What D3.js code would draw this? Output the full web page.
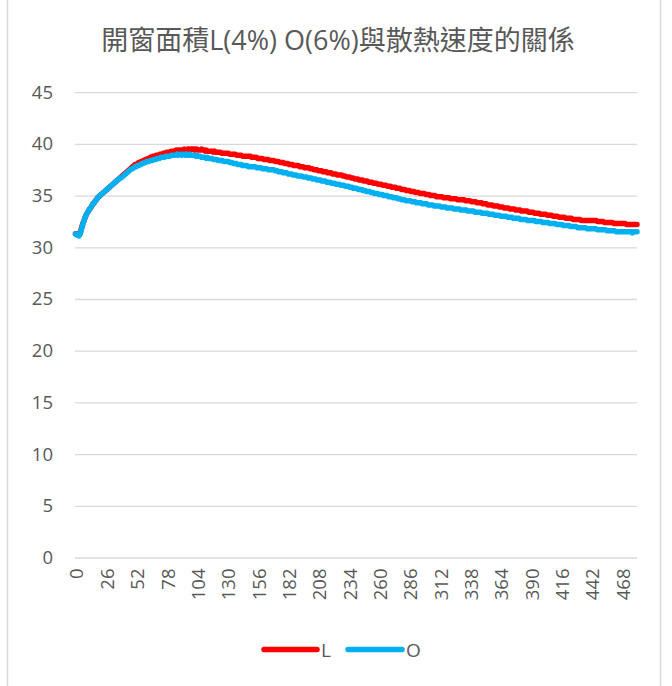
<!DOCTYPE html>
<html>
<head>
<meta charset="utf-8">
<script src="https://cdn.jsdelivr.net/npm/d3@7"></script>
<style>
  html, body { margin: 0; padding: 0; background: #ffffff; }
  svg { display: block; }
  text { font-family: "Open Sans", "Noto Sans CJK TC", sans-serif; fill: #595959; }
</style>
</head>
<body>
<svg id="chart" width="672" height="686"></svg>
<script>
// Temperature readings (°C) for the two window-opening areas, one per sampling step 0..481
const seriesL = [
  31.3, 31.3, 31.2, 31.2, 31.4, 31.8, 32.2, 32.5, 32.8, 33.1,
  33.3, 33.5, 33.7, 33.8, 34.0, 34.2, 34.3, 34.5, 34.6, 34.8,
  34.9, 35.0, 35.1, 35.2, 35.3, 35.4, 35.5, 35.6, 35.7, 35.8,
  35.9, 36.0, 36.1, 36.2, 36.3, 36.4, 36.5, 36.6, 36.7, 36.8,
  36.9, 37.0, 37.1, 37.2, 37.3, 37.4, 37.5, 37.6, 37.7, 37.8,
  37.9, 38.0, 38.0, 38.1, 38.2, 38.2, 38.3, 38.3, 38.4, 38.4,
  38.5, 38.5, 38.6, 38.6, 38.7, 38.7, 38.8, 38.8, 38.8, 38.9,
  38.9, 38.9, 39.0, 39.0, 39.0, 39.1, 39.1, 39.1, 39.2, 39.2,
  39.2, 39.2, 39.3, 39.3, 39.3, 39.3, 39.4, 39.3, 39.4, 39.4,
  39.4, 39.4, 39.4, 39.5, 39.4, 39.4, 39.5, 39.5, 39.4, 39.5,
  39.5, 39.5, 39.4, 39.5, 39.5, 39.4, 39.4, 39.4, 39.5, 39.4,
  39.4, 39.3, 39.4, 39.3, 39.3, 39.3, 39.3, 39.3, 39.2, 39.3,
  39.2, 39.2, 39.2, 39.2, 39.2, 39.1, 39.1, 39.1, 39.1, 39.1,
  39.1, 39.1, 39.0, 39.0, 39.0, 39.0, 39.0, 39.0, 38.9, 38.9,
  38.9, 38.9, 38.9, 38.8, 38.8, 38.8, 38.8, 38.8, 38.8, 38.8,
  38.8, 38.7, 38.7, 38.7, 38.7, 38.7, 38.6, 38.6, 38.6, 38.6,
  38.6, 38.5, 38.5, 38.5, 38.5, 38.5, 38.4, 38.4, 38.4, 38.4,
  38.4, 38.3, 38.3, 38.3, 38.3, 38.2, 38.2, 38.2, 38.2, 38.1,
  38.1, 38.1, 38.1, 38.0, 38.0, 38.0, 38.0, 37.9, 37.9, 37.9,
  37.9, 37.9, 37.8, 37.8, 37.8, 37.8, 37.7, 37.7, 37.7, 37.7,
  37.7, 37.6, 37.6, 37.6, 37.5, 37.5, 37.5, 37.5, 37.4, 37.4,
  37.4, 37.4, 37.3, 37.3, 37.3, 37.3, 37.2, 37.2, 37.2, 37.2,
  37.1, 37.1, 37.1, 37.1, 37.0, 37.0, 37.0, 37.0, 37.0, 36.9,
  36.9, 36.9, 36.8, 36.8, 36.8, 36.8, 36.7, 36.7, 36.7, 36.6,
  36.6, 36.6, 36.6, 36.5, 36.5, 36.5, 36.5, 36.4, 36.4, 36.4,
  36.4, 36.3, 36.3, 36.3, 36.3, 36.2, 36.2, 36.2, 36.2, 36.1,
  36.1, 36.1, 36.1, 36.0, 36.0, 36.0, 36.0, 35.9, 35.9, 35.9,
  35.9, 35.8, 35.8, 35.8, 35.8, 35.7, 35.7, 35.7, 35.7, 35.6,
  35.6, 35.6, 35.6, 35.5, 35.5, 35.5, 35.5, 35.4, 35.4, 35.4,
  35.4, 35.3, 35.3, 35.3, 35.3, 35.2, 35.2, 35.2, 35.2, 35.2,
  35.1, 35.1, 35.1, 35.1, 35.0, 35.0, 35.0, 35.0, 35.0, 34.9,
  34.9, 34.9, 34.9, 34.9, 34.9, 34.8, 34.8, 34.8, 34.8, 34.8,
  34.8, 34.7, 34.7, 34.7, 34.7, 34.7, 34.7, 34.6, 34.6, 34.6,
  34.6, 34.6, 34.6, 34.6, 34.5, 34.5, 34.5, 34.5, 34.5, 34.4,
  34.4, 34.4, 34.4, 34.4, 34.3, 34.3, 34.3, 34.3, 34.3, 34.2,
  34.2, 34.2, 34.2, 34.1, 34.1, 34.1, 34.1, 34.1, 34.0, 34.0,
  34.0, 34.0, 34.0, 33.9, 33.9, 33.9, 33.9, 33.8, 33.8, 33.8,
  33.8, 33.8, 33.7, 33.7, 33.7, 33.7, 33.7, 33.6, 33.6, 33.6,
  33.6, 33.6, 33.5, 33.5, 33.5, 33.5, 33.5, 33.5, 33.4, 33.4,
  33.4, 33.4, 33.4, 33.3, 33.3, 33.3, 33.3, 33.3, 33.2, 33.2,
  33.2, 33.2, 33.2, 33.2, 33.1, 33.1, 33.1, 33.1, 33.1, 33.0,
  33.0, 33.0, 33.0, 33.0, 32.9, 32.9, 32.9, 32.9, 32.9, 32.9,
  32.8, 32.8, 32.8, 32.8, 32.8, 32.8, 32.7, 32.7, 32.7, 32.7,
  32.7, 32.7, 32.7, 32.6, 32.6, 32.6, 32.6, 32.6, 32.6, 32.6,
  32.6, 32.6, 32.6, 32.6, 32.6, 32.6, 32.6, 32.5, 32.5, 32.5,
  32.5, 32.5, 32.5, 32.4, 32.4, 32.4, 32.4, 32.4, 32.4, 32.4,
  32.4, 32.3, 32.3, 32.3, 32.3, 32.3, 32.3, 32.3, 32.3, 32.3,
  32.3, 32.3, 32.2, 32.2, 32.2, 32.2, 32.2, 32.2, 32.2, 32.2,
  32.2, 32.2
];

const seriesO = [
  31.3, 31.2, 31.2, 31.1, 31.3, 31.7, 32.1, 32.5, 32.8, 33.1,
  33.3, 33.5, 33.7, 33.8, 34.0, 34.2, 34.3, 34.5, 34.6, 34.8,
  34.9, 35.0, 35.1, 35.2, 35.3, 35.4, 35.5, 35.6, 35.7, 35.8,
  35.9, 36.0, 36.1, 36.2, 36.3, 36.4, 36.5, 36.6, 36.7, 36.7,
  36.8, 36.9, 37.0, 37.1, 37.2, 37.3, 37.4, 37.5, 37.6, 37.6,
  37.7, 37.8, 37.8, 37.9, 37.9, 38.0, 38.0, 38.1, 38.1, 38.2,
  38.2, 38.3, 38.3, 38.3, 38.4, 38.4, 38.4, 38.5, 38.5, 38.5,
  38.6, 38.6, 38.6, 38.7, 38.7, 38.7, 38.7, 38.8, 38.8, 38.8,
  38.8, 38.8, 38.9, 38.9, 38.9, 38.9, 38.9, 39.0, 38.9, 39.0,
  39.0, 38.9, 39.0, 39.0, 38.9, 39.0, 38.9, 38.9, 39.0, 38.9,
  38.9, 38.9, 38.9, 38.8, 38.9, 38.8, 38.8, 38.8, 38.7, 38.7,
  38.7, 38.7, 38.6, 38.7, 38.6, 38.6, 38.6, 38.6, 38.5, 38.5,
  38.5, 38.5, 38.4, 38.4, 38.4, 38.4, 38.4, 38.3, 38.3, 38.3,
  38.3, 38.3, 38.2, 38.2, 38.2, 38.1, 38.1, 38.1, 38.1, 38.0,
  38.0, 38.0, 38.0, 37.9, 37.9, 37.9, 37.9, 37.9, 37.8, 37.8,
  37.8, 37.8, 37.8, 37.8, 37.8, 37.7, 37.7, 37.7, 37.7, 37.7,
  37.6, 37.6, 37.6, 37.6, 37.6, 37.5, 37.5, 37.5, 37.5, 37.5,
  37.5, 37.4, 37.4, 37.4, 37.3, 37.3, 37.3, 37.3, 37.2, 37.2,
  37.2, 37.2, 37.1, 37.1, 37.1, 37.1, 37.0, 37.0, 37.0, 37.0,
  36.9, 36.9, 36.9, 36.9, 36.9, 36.8, 36.8, 36.8, 36.8, 36.7,
  36.7, 36.7, 36.7, 36.6, 36.6, 36.6, 36.6, 36.5, 36.5, 36.5,
  36.5, 36.4, 36.4, 36.4, 36.4, 36.3, 36.3, 36.3, 36.3, 36.2,
  36.2, 36.2, 36.2, 36.1, 36.1, 36.1, 36.1, 36.0, 36.0, 36.0,
  36.0, 35.9, 35.9, 35.9, 35.9, 35.8, 35.8, 35.8, 35.7, 35.7,
  35.7, 35.7, 35.6, 35.6, 35.6, 35.6, 35.5, 35.5, 35.5, 35.4,
  35.4, 35.4, 35.4, 35.3, 35.3, 35.3, 35.2, 35.2, 35.2, 35.2,
  35.1, 35.1, 35.1, 35.1, 35.0, 35.0, 35.0, 35.0, 34.9, 34.9,
  34.9, 34.9, 34.8, 34.8, 34.8, 34.8, 34.7, 34.7, 34.7, 34.6,
  34.6, 34.6, 34.6, 34.5, 34.5, 34.5, 34.5, 34.5, 34.4, 34.4,
  34.4, 34.4, 34.3, 34.3, 34.3, 34.3, 34.3, 34.2, 34.2, 34.2,
  34.2, 34.2, 34.1, 34.1, 34.1, 34.1, 34.1, 34.0, 34.0, 34.0,
  34.0, 34.0, 34.0, 33.9, 33.9, 33.9, 33.9, 33.9, 33.8, 33.8,
  33.8, 33.8, 33.8, 33.8, 33.7, 33.7, 33.7, 33.7, 33.7, 33.7,
  33.6, 33.6, 33.6, 33.6, 33.6, 33.6, 33.5, 33.5, 33.5, 33.5,
  33.5, 33.5, 33.4, 33.4, 33.4, 33.4, 33.4, 33.4, 33.3, 33.3,
  33.3, 33.3, 33.3, 33.3, 33.2, 33.2, 33.2, 33.2, 33.2, 33.1,
  33.1, 33.1, 33.1, 33.1, 33.0, 33.0, 33.0, 33.0, 33.0, 33.0,
  32.9, 32.9, 32.9, 32.9, 32.9, 32.8, 32.8, 32.8, 32.8, 32.8,
  32.8, 32.7, 32.7, 32.7, 32.7, 32.7, 32.7, 32.6, 32.6, 32.6,
  32.6, 32.6, 32.6, 32.6, 32.5, 32.5, 32.5, 32.5, 32.5, 32.5,
  32.4, 32.4, 32.4, 32.4, 32.4, 32.4, 32.3, 32.3, 32.3, 32.3,
  32.3, 32.3, 32.2, 32.2, 32.2, 32.2, 32.2, 32.2, 32.1, 32.1,
  32.1, 32.1, 32.1, 32.1, 32.0, 32.0, 32.0, 32.0, 32.0, 32.0,
  31.9, 31.9, 31.9, 31.9, 31.9, 31.9, 31.9, 31.9, 31.8, 31.8,
  31.8, 31.8, 31.8, 31.8, 31.8, 31.8, 31.8, 31.7, 31.7, 31.7,
  31.7, 31.7, 31.7, 31.7, 31.7, 31.6, 31.6, 31.6, 31.6, 31.6,
  31.6, 31.6, 31.6, 31.5, 31.5, 31.5, 31.5, 31.5, 31.5, 31.5,
  31.5, 31.5, 31.5, 31.5, 31.5, 31.5, 31.5, 31.4, 31.5, 31.5,
  31.5, 31.5
];

// Sampling steps used as categories; every 26th step carries a label
const categories = d3.range(seriesL.length);
const xTickLabels = [0, 26, 52, 78, 104, 130, 156, 182, 208, 234, 260, 286, 312, 338, 364, 390, 416, 442, 468];
const yTickLabels = [0, 5, 10, 15, 20, 25, 30, 35, 40, 45];

const seriesNames = ["L", "O"];
const seriesColors = ["#FF0000", "#00B0F0"];
const titleText = "開窗面積L(4%) O(6%)與散熱速度的關係";

const svg = d3.select("#chart");

// chart frame
svg.append("rect")
  .attr("x", 7.5).attr("y", -5)
  .attr("width", 653).attr("height", 700)
  .attr("fill", "#ffffff")
  .attr("stroke", "#D9D9D9")
  .attr("stroke-width", 1.5);

const plot = { left: 75, right: 637, top: 92.2, bottom: 557.5 };

const x = d3.scalePoint()
  .domain(categories)
  .range([plot.left + 0.5, plot.right]);

const y = d3.scaleLinear()
  .domain([0, 45])
  .range([plot.bottom, plot.top]);

// horizontal gridlines
const yAxis = d3.axisLeft(y)
  .tickValues(yTickLabels)
  .tickSize(-(plot.right - plot.left))
  .tickPadding(22)
  .tickFormat(d3.format("d"));

const gy = svg.append("g")
  .attr("transform", `translate(${plot.left},0)`)
  .call(yAxis);
gy.select(".domain").remove();
gy.selectAll(".tick line").attr("stroke", "#D9D9D9").attr("stroke-width", 1.3);
gy.selectAll(".tick text")
  .attr("font-size", 18.5)
  .attr("fill", "#595959")
  .style("font-family", "'Open Sans', sans-serif");

// category axis with rotated labels
const xAxis = d3.axisBottom(x)
  .tickValues(xTickLabels)
  .tickSize(0)
  .tickPadding(0);

const gx = svg.append("g")
  .attr("transform", `translate(0,${plot.bottom})`)
  .call(xAxis);
gx.select(".domain").remove();
gx.selectAll(".tick text")
  .attr("font-size", 18.5)
  .attr("fill", "#595959")
  .style("font-family", "'Open Sans', sans-serif")
  .attr("text-anchor", "end")
  .attr("dy", "0.35em")
  .attr("y", 0)
  .attr("transform", "translate(1,11) rotate(-90)");

// series lines
const line = d3.line()
  .x((d, i) => x(categories[i]))
  .y(d => y(d));

[seriesL, seriesO].forEach((vals, k) => {
  svg.append("path")
    .datum(vals)
    .attr("d", line)
    .attr("fill", "none")
    .attr("stroke", seriesColors[k])
    .attr("stroke-width", 5.5)
    .attr("stroke-linecap", "round")
    .attr("stroke-linejoin", "round");
});

// title
svg.append("text")
  .attr("x", 338)
  .attr("y", 50)
  .attr("text-anchor", "middle")
  .attr("font-size", 27)
  .style("font-family", "'Open Sans', 'Noto Sans CJK TC', sans-serif")
  .attr("fill", "#595959")
  .text(titleText);

// legend
const legendItems = [
  { name: seriesNames[0], color: seriesColors[0], x0: 264, x1: 317, tx: 321 },
  { name: seriesNames[1], color: seriesColors[1], x0: 348, x1: 402, tx: 406 }
];
const legend = svg.append("g");
legendItems.forEach(item => {
  legend.append("line")
    .attr("x1", item.x0).attr("x2", item.x1)
    .attr("y1", 649.5).attr("y2", 649.5)
    .attr("stroke", item.color)
    .attr("stroke-width", 5.5)
    .attr("stroke-linecap", "round");
  legend.append("text")
    .attr("x", item.tx)
    .attr("y", 656.5)
    .attr("font-size", 19)
    .attr("fill", "#595959")
    .text(item.name);
});
</script>
</body>
</html>
